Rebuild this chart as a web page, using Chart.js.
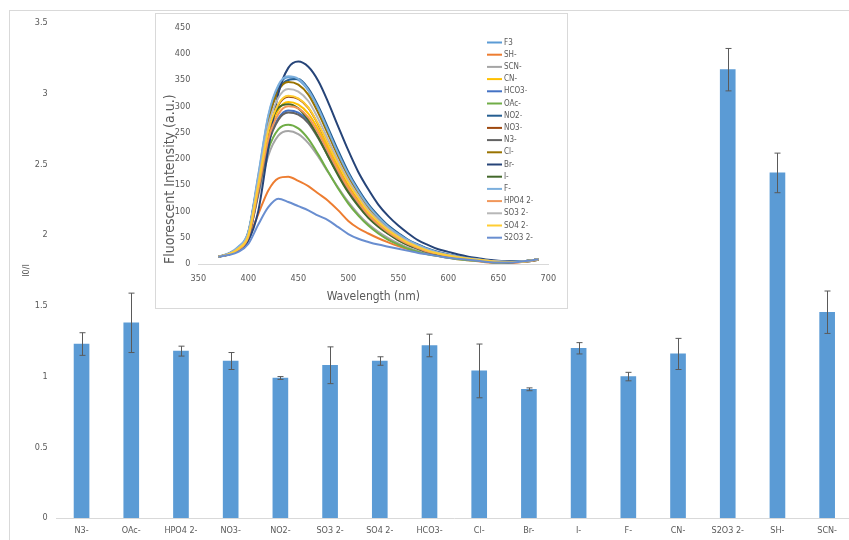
<!DOCTYPE html>
<html>
<head>
<meta charset="utf-8">
<script src="https://cdn.jsdelivr.net/npm/chart.js@4.4.1/dist/chart.umd.min.js"></script>
<style>
  html, body { margin: 0; padding: 0; background: #fff; overflow: hidden; width: 849px; height: 540px; }
  #frame { position: absolute; left: 9px; top: 10px; width: 870px; height: 570px; border: 1px solid #d9d9d9; }
  #mainWrap { position: absolute; left: 0; top: 0; width: 852px; height: 540px; }
  #insetBox { position: absolute; left: 155px; top: 13px; width: 411px; height: 294px; border: 1px solid #d9d9d9; background: #fff; }
  canvas { display: block; }
</style>
</head>
<body>
<div id="frame"></div>
<div id="mainWrap"><canvas id="main" width="852" height="540"></canvas></div>
<div id="insetBox"><canvas id="inset" width="411" height="294"></canvas></div>
<script>
// ---- I0/I ratio per anion (bar chart) ----
const anionLabels = ['N3-', 'OAc-', 'HPO4 2-', 'NO3-', 'NO2-', 'SO3 2-', 'SO4 2-', 'HCO3-', 'Cl-', 'Br-', 'I-', 'F-', 'CN-', 'S2O3 2-', 'SH-', 'SCN-'];
const ratioValues = [1.23, 1.38, 1.18, 1.11, 0.99, 1.08, 1.11, 1.22, 1.04, 0.91, 1.20, 1.00, 1.16, 3.17, 2.44, 1.455];
const ratioErrors = [0.08, 0.21, 0.035, 0.06, 0.01, 0.13, 0.03, 0.08, 0.19, 0.01, 0.04, 0.03, 0.11, 0.15, 0.14, 0.15];
const ratioTicks = [0, 0.5, 1, 1.5, 2, 2.5, 3, 3.5];

// ---- Emission spectra (inset) ----
const wavelengths = [370, 380, 390, 400, 410, 420, 430, 440, 450, 460, 470, 480, 490, 500, 510, 520, 530, 540, 550, 560, 570, 580, 590, 600, 610, 620, 630, 640, 650, 660, 670, 680, 690];
const f3       = [14, 19, 32, 60, 167, 280, 337, 355, 350, 330, 295, 252, 209, 170, 138, 110, 89, 71, 57, 44, 36, 28, 22, 18, 14, 11, 9, 6, 5, 4, 5, 6, 9];
const sh       = [14, 18, 27, 50, 95, 140, 163, 166, 158, 148, 134, 120, 102, 82, 68, 58, 49, 41, 34, 28, 23, 19, 15, 12, 9, 7, 5, 3, 2, 2, 3, 5, 8];
const scn      = [14, 18, 28, 52, 130, 206, 244, 253, 247, 230, 204, 174, 145, 118, 95, 76, 61, 49, 39, 31, 25, 20, 16, 12, 10, 8, 6, 4, 3, 3, 4, 5, 8];
const cn       = [14, 18, 28, 52, 145, 243, 293, 308, 303, 286, 256, 219, 182, 148, 120, 95, 77, 62, 49, 39, 31, 24, 19, 15, 12, 10, 7, 6, 4, 4, 4, 6, 8];
const hco3     = [14, 18, 27, 50, 137, 231, 277, 292, 288, 272, 242, 207, 172, 140, 114, 91, 73, 58, 47, 37, 29, 23, 18, 15, 12, 9, 7, 5, 4, 4, 4, 5, 8];
const oac      = [14, 19, 30, 56, 140, 218, 256, 265, 258, 238, 208, 175, 143, 115, 92, 73, 58, 46, 37, 29, 23, 18, 15, 12, 9, 7, 6, 4, 3, 3, 4, 5, 8];
const no2      = [14, 19, 30, 56, 158, 272, 332, 350, 352, 334, 300, 258, 215, 175, 142, 114, 92, 73, 59, 46, 37, 29, 23, 18, 14, 11, 9, 7, 5, 4, 5, 6, 9];
const no3      = [14, 18, 28, 52, 146, 250, 302, 318, 314, 297, 265, 227, 189, 154, 125, 100, 80, 64, 51, 40, 32, 25, 20, 16, 13, 10, 8, 6, 4, 4, 4, 6, 9];
const n3       = [14, 18, 26, 49, 135, 228, 274, 288, 284, 268, 239, 204, 170, 138, 112, 89, 72, 58, 46, 36, 29, 22, 18, 14, 12, 9, 7, 5, 4, 3, 4, 5, 8];
const cl       = [14, 19, 31, 59, 163, 273, 329, 346, 341, 322, 287, 246, 204, 166, 135, 107, 87, 69, 55, 43, 35, 27, 21, 17, 14, 11, 8, 6, 5, 4, 5, 6, 9];
const br       = [14, 18, 26, 44, 101, 219, 324, 373, 385, 375, 348, 307, 261, 216, 175, 142, 113, 91, 73, 58, 45, 36, 28, 23, 18, 14, 11, 8, 6, 5, 5, 6, 9];
const iodide   = [14, 19, 30, 60, 160, 255, 297, 304, 296, 274, 241, 204, 168, 136, 110, 88, 71, 57, 45, 36, 29, 23, 18, 14, 11, 9, 7, 5, 4, 4, 4, 6, 8];
const fluoride = [14, 20, 33, 62, 170, 283, 340, 357, 352, 331, 296, 253, 210, 171, 139, 111, 89, 71, 57, 45, 36, 28, 22, 18, 14, 11, 9, 6, 5, 4, 5, 6, 9];
const hpo4     = [14, 18, 27, 51, 141, 237, 285, 300, 296, 279, 249, 213, 177, 144, 117, 93, 75, 60, 48, 38, 30, 23, 19, 15, 12, 9, 7, 5, 4, 4, 4, 5, 8];
const so3      = [14, 19, 30, 57, 157, 263, 316, 333, 328, 310, 276, 236, 196, 160, 130, 103, 83, 67, 53, 42, 33, 26, 21, 17, 13, 10, 8, 6, 5, 4, 4, 6, 9];
const so4      = [14, 18, 29, 54, 150, 253, 304, 320, 315, 298, 266, 227, 189, 154, 125, 99, 80, 64, 51, 40, 32, 25, 20, 16, 13, 10, 8, 6, 4, 4, 4, 6, 9];
const s2o3     = [14, 17, 23, 38, 75, 108, 124, 118, 110, 102, 92, 83, 70, 57, 48, 42, 37, 33, 29, 25, 21, 18, 15, 12, 10, 8, 6, 4, 3, 3, 4, 6, 9];

const spectra = [
  ['F3', f3, '#5B9BD5'],
  ['SH-', sh, '#ED7D31'],
  ['SCN-', scn, '#A5A5A5'],
  ['CN-', cn, '#FFC000'],
  ['HCO3-', hco3, '#4472C4'],
  ['OAc-', oac, '#70AD47'],
  ['NO2-', no2, '#255E91'],
  ['NO3-', no3, '#9E480E'],
  ['N3-', n3, '#636363'],
  ['Cl-', cl, '#997300'],
  ['Br-', br, '#264478'],
  ['I-', iodide, '#43682B'],
  ['F-', fluoride, '#7CAFDD'],
  ['HPO4 2-', hpo4, '#F1975A'],
  ['SO3 2-', so3, '#B7B7B7'],
  ['SO4 2-', so4, '#FFCD33'],
  ['S2O3 2-', s2o3, '#698ED0']
];

const FONT = "'Liberation Sans Narrow', 'DejaVu Sans Condensed', 'Liberation Sans', Arial, sans-serif";
const TEXT = '#595959';

// Error bars drawn on top of the bars, in value space of the y scale
const errorBars = {
  id: 'errorBars',
  afterDatasetsDraw(chart) {
    const { ctx } = chart;
    const y = chart.scales.y;
    const meta = chart.getDatasetMeta(0);
    ctx.save();
    ctx.strokeStyle = '#5a5a5a';
    ctx.lineWidth = 1;
    meta.data.forEach((bar, i) => {
      const v = ratioValues[i], e = ratioErrors[i];
      const x = Math.round(bar.x) + 0.5;
      const yTop = y.getPixelForValue(v + e);
      const yBot = y.getPixelForValue(v - e);
      ctx.beginPath();
      ctx.moveTo(x, yTop); ctx.lineTo(x, yBot);
      ctx.moveTo(x - 3, yTop); ctx.lineTo(x + 3, yTop);
      ctx.moveTo(x - 3, yBot); ctx.lineTo(x + 3, yBot);
      ctx.stroke();
    });
    ctx.restore();
  }
};

new Chart(document.getElementById('main'), {
  type: 'bar',
  data: {
    labels: anionLabels,
    datasets: [{
      data: ratioValues,
      backgroundColor: '#5B9BD5',
      borderWidth: 0,
      barThickness: 15
    }]
  },
  options: {
    responsive: false,
    animation: false,
    devicePixelRatio: 1,
    layout: { padding: { top: 23, left: 0, right: 0, bottom: 0 } },
    plugins: { legend: { display: false }, tooltip: { enabled: false } },
    scales: {
      x: {
        grid: { display: false, drawTicks: false },
        border: { display: true, color: '#d9d9d9' },
        ticks: { color: TEXT, font: { family: FONT, size: 9 }, padding: 7, maxRotation: 0, autoSkip: false },
        afterFit(s) { s.height = 22; }
      },
      y: {
        min: 0, max: 3.5,
        afterBuildTicks(s) { s.ticks = ratioTicks.map(v => ({ value: v })); },
        ticks: { color: TEXT, font: { family: FONT, size: 9 }, padding: 9, callback: v => String(v) },
        grid: { display: false, drawTicks: false },
        border: { display: false },
        title: { display: true, text: 'I0/I', color: TEXT, font: { family: FONT, size: 9 }, padding: { top: 21.6, bottom: 0 } },
        afterFit(s) { s.width = 56.7; }
      }
    }
  },
  plugins: [errorBars]
});

// Legend of the inset, placed inside its plot region
const insetLegend = {
  id: 'insetLegend',
  afterDraw(chart) {
    const { ctx } = chart;
    ctx.save();
    ctx.font = '8px ' + FONT;
    ctx.textBaseline = 'middle';
    chart.data.datasets.forEach((ds, i) => {
      const yy = 28.5 + i * 12.2;
      ctx.strokeStyle = ds.borderColor;
      ctx.lineWidth = 2;
      ctx.beginPath();
      ctx.moveTo(331, yy); ctx.lineTo(346, yy);
      ctx.stroke();
      ctx.fillStyle = TEXT;
      ctx.fillText(ds.label, 348, yy);
    });
    ctx.restore();
  }
};

new Chart(document.getElementById('inset'), {
  type: 'line',
  data: {
    labels: wavelengths,
    datasets: spectra.map(([label, values, color], i) => ({
      label,
      data: values,
      borderColor: color,
      backgroundColor: color,
      borderWidth: 2,
      pointRadius: 0,
      tension: 0.4,
      cubicInterpolationMode: 'monotone',
      fill: false,
      order: spectra.length - i
    }))
  },
  options: {
    responsive: false,
    animation: false,
    devicePixelRatio: 1,
    layout: { padding: { top: 7.7, right: 18.7, left: 0, bottom: 0 } },
    plugins: { legend: { display: false }, tooltip: { enabled: false } },
    scales: {
      x: {
        type: 'linear', min: 350, max: 700,
        ticks: { stepSize: 50, color: TEXT, font: { family: FONT, size: 9 }, padding: 9 },
        grid: { display: false, drawTicks: false },
        border: { display: true, color: '#d9d9d9' },
        title: { display: true, text: 'Wavelength (nm)', color: TEXT, font: { family: FONT, size: 12 }, padding: { top: 0, bottom: 3.8 } },
        afterFit(s) { s.height = 44; }
      },
      y: {
        min: 0, max: 450,
        ticks: { stepSize: 50, color: TEXT, font: { family: FONT, size: 9 }, padding: 8 },
        grid: { display: false, drawTicks: false },
        border: { display: false },
        title: { display: true, text: 'Fluorescent Intensity (a.u.)', align: 'start', color: TEXT, font: { family: FONT, size: 14 }, padding: { top: 5.5, bottom: 0 } },
        afterFit(s) { s.width = 42.3; }
      }
    }
  },
  plugins: [insetLegend]
});
</script>
</body>
</html>
